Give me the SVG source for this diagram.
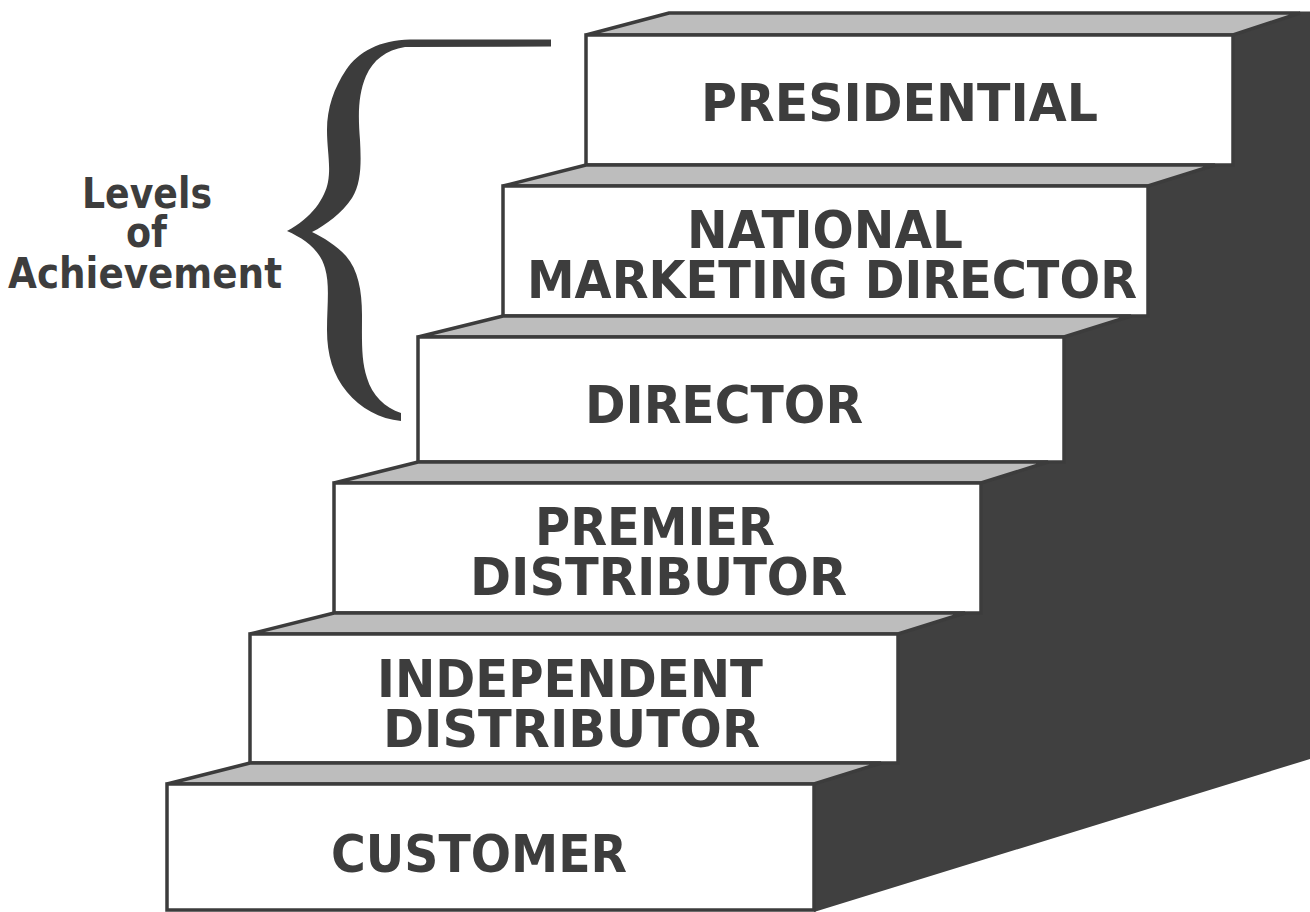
<svg xmlns="http://www.w3.org/2000/svg" width="1310" height="912" viewBox="0 0 1310 912">
<style>
.top{fill:#bdbdbd;stroke:#3c3c3c;stroke-width:3.5;stroke-linejoin:miter}
.front{fill:#ffffff;stroke:#3c3c3c;stroke-width:3.5}
.lbl{font-family:"DejaVu Sans","Liberation Sans",sans-serif;font-weight:bold;font-size:52px;fill:#3d3d3d}
.side{font-family:"DejaVu Sans","Liberation Sans",sans-serif;font-weight:bold;font-size:42px;fill:#3d3d3d;text-anchor:middle}
</style>
<rect width="1310" height="912" fill="#ffffff"/>
<g id="side">
<polygon fill="#404040" points="1233,35 1300,11.5 1310,11.5 1310,759 814,912 814,784 881,763 898,763 898,634 965,613 981,613 981,483 1048,462 1064,462 1064,337 1131,316 1148,316 1148,186 1215,165 1233,165"/>
</g>
<g id="step-presidential">
<polygon class="top" points="586,35 669,13 1300,13 1233,35"/>
<rect class="front" x="586" y="35" width="647" height="130"/>
<text class="lbl" x="701" y="121" textLength="397" lengthAdjust="spacingAndGlyphs">PRESIDENTIAL</text>
</g>
<g id="step-national">
<polygon class="top" points="503,186 586,165 1215,165 1148,186"/>
<rect class="front" x="503" y="186" width="645" height="130"/>
<text class="lbl" x="687" y="248" textLength="276" lengthAdjust="spacingAndGlyphs">NATIONAL</text>
<text class="lbl" x="527" y="298" textLength="610" lengthAdjust="spacingAndGlyphs">MARKETING DIRECTOR</text>
</g>
<g id="step-director">
<polygon class="top" points="418,337 503,316 1131,316 1064,337"/>
<rect class="front" x="418" y="337" width="646" height="125"/>
<text class="lbl" x="585" y="423" textLength="278" lengthAdjust="spacingAndGlyphs">DIRECTOR</text>
</g>
<g id="step-premier">
<polygon class="top" points="334,483 418,462 1048,462 981,483"/>
<rect class="front" x="334" y="483" width="647" height="130"/>
<text class="lbl" x="535" y="545" textLength="240" lengthAdjust="spacingAndGlyphs">PREMIER</text>
<text class="lbl" x="470" y="595" textLength="377" lengthAdjust="spacingAndGlyphs">DISTRIBUTOR</text>
</g>
<g id="step-independent">
<polygon class="top" points="250,634 334,613 965,613 898,634"/>
<rect class="front" x="250" y="634" width="648" height="129"/>
<text class="lbl" x="377" y="697" textLength="386" lengthAdjust="spacingAndGlyphs">INDEPENDENT</text>
<text class="lbl" x="383" y="747" textLength="377" lengthAdjust="spacingAndGlyphs">DISTRIBUTOR</text>
</g>
<g id="step-customer">
<polygon class="top" points="167,784 250,763 881,763 814,784"/>
<rect class="front" x="167" y="784" width="647" height="126"/>
<text class="lbl" x="331" y="872" textLength="296" lengthAdjust="spacingAndGlyphs">CUSTOMER</text>
</g>
<g id="brace">
<path fill="#3c3c3c" d="M 551 39.5 L 410 39.5 C 380 40 358 52 346 70 C 334 88 327 108 327 130 C 327 150 331 165 328 182 C 325 198 312 218 287 231 C 305 239 320 250 325 268 C 330 285 327 305 327 330 C 327 355 333 375 347 392 C 360 408 380 419 401 421 L 401 413 C 385 408 372 395 367 378 C 361 360 362 340 362 315 C 362 290 358 270 346 256 C 336 245 324 238 312 232 C 326 225 342 213 352 198 C 362 182 361 160 360 140 C 358 115 358 95 366 76 C 373 60 386 50 405 47 L 551 46.5 Z"/>
</g>
<g id="label">
<text class="side" x="147" y="208" textLength="130" lengthAdjust="spacingAndGlyphs">Levels</text>
<text class="side" x="146.5" y="247" textLength="41" lengthAdjust="spacingAndGlyphs">of</text>
<text class="side" x="145" y="288" textLength="274" lengthAdjust="spacingAndGlyphs">Achievement</text>
</g>
</svg>
